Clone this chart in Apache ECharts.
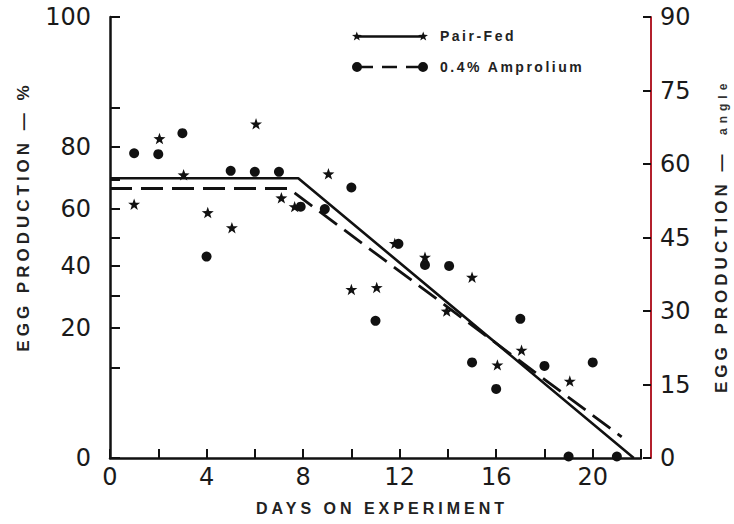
<!DOCTYPE html>
<html><head><meta charset="utf-8">
<script src="https://cdn.jsdelivr.net/npm/echarts@6/dist/echarts.min.js"></script>
<style>html,body{margin:0;padding:0;background:#fff}#c{width:734px;height:524px}</style>
</head><body><div id="c"></div>
<script>
// ---- data (y values in degrees on the angle scale) ----
const pairFedDays  = [1, 2.05, 3.05, 4.05, 5.05, 6.05, 7.1, 7.65, 9.05, 10, 11.05, 11.8, 13.05, 13.95, 15, 16.05, 17.05, 19.05];
const pairFedAngle = [51.8, 65.2, 57.8, 50.1, 47.0, 68.2, 53.1, 51.3, 58.0, 34.4, 34.8, 43.8, 41.0, 30.0, 36.9, 19.0, 22.0, 15.7];
const amproliumDays  = [1, 2, 3, 4, 5, 6, 7, 7.9, 8.9, 10, 11, 11.95, 13.05, 14.05, 15, 16, 17, 18, 19, 20, 21];
const amproliumAngle = [62.2, 62.0, 66.3, 41.1, 58.6, 58.4, 58.4, 51.3, 50.8, 55.2, 28.0, 43.7, 39.4, 39.2, 19.5, 14.1, 28.4, 18.8, 0.3, 19.5, 0.3];
const pairFedFitDays  = [0, 7.8, 21.7];
const pairFedFitAngle = [57.1, 57.1, 0];
const amproliumFitDays  = [0, 7.4, 21.2];
const amproliumFitAngle = [55.0, 55.0, 4.3];
const percentTicks  = [0, 10, 20, 30, 40, 50, 60, 70, 80, 90, 100];
const percentLabels = [0, 20, 40, 60, 80, 100];
const angleTicks    = [0, 15, 30, 45, 60, 75, 90];
const dayLabels     = [0, 4, 8, 12, 16, 20];

// arcsine transform used by the left (percent) axis
const toAngle = p => Math.asin(Math.sqrt(p / 100)) * 180 / Math.PI;
const toPercent = a => Math.round(100 * Math.pow(Math.sin(a * Math.PI / 180), 2));
const zip = (xs, ys) => xs.map((x, i) => [x, ys[i]]);

const FONT = '"Liberation Sans", Arial, sans-serif';
const NUMFONT = '"DejaVu Sans", sans-serif';
const INK = '#111';
const STAR = 'path://M0,-10L2.351,-3.236L9.511,-3.09L3.804,1.236L5.878,8.09L0,4L-5.878,8.09L-3.804,1.236L-9.511,-3.09L-2.351,-3.236Z';
const PF_ICON = 'path://M0.24,4.45L3.82,4.38L5,1L6.18,4.38L9.76,4.45L6.9,6.62L7.94,10.05L5,8L2.06,10.05L3.1,6.62Z' +
  'M5,4.8L71,4.8L71,7.2L5,7.2Z' +
  'M66.24,4.45L69.82,4.38L71,1L72.18,4.38L75.76,4.45L72.9,6.62L73.94,10.05L71,8L68.06,10.05L69.1,6.62Z';
const AM_ICON = 'path://M0,6A5,5 0 1 1 10,6A5,5 0 1 1 0,6Z' +
  'M5,4.7L21,4.7L21,7.3L5,7.3Z M30,4.7L45,4.7L45,7.3L30,7.3Z M54,4.7L71,4.7L71,7.3L54,7.3Z' +
  'M66,6A5,5 0 1 1 76,6A5,5 0 1 1 66,6Z';

const chart = echarts.init(document.getElementById('c'), null, {renderer: 'svg'});
const option = {
  animation: false,
  backgroundColor: '#fff',
  grid: {left: 110, right: 93, top: 17, bottom: 66},
  legend: {
    left: 347, top: 24, orient: 'vertical', itemWidth: 76, itemHeight: 10, itemGap: 17,
    symbolKeepAspect: true, selectedMode: false,
    data: [{name: 'Pair-Fed', icon: PF_ICON}, {name: '0.4% Amprolium', icon: AM_ICON}],
    itemStyle: {color: INK, borderWidth: 0, opacity: 1},
    textStyle: {fontSize: 14, fontWeight: 'bold', color: '#222', fontFamily: FONT, padding: [0, 0, 0, 7]}
  },
  xAxis: {
    type: 'value', min: 0, max: 22, interval: 2,
    name: 'DAYS ON EXPERIMENT', nameLocation: 'middle', nameGap: 42,
    nameTextStyle: {fontSize: 16, fontWeight: 'bold', color: '#222', fontFamily: FONT, padding: [0, 0, 0, 13]},
    axisLine: {lineStyle: {color: INK, width: 2.5}},
    axisTick: {inside: true, length: 9, lineStyle: {color: INK, width: 2}},
    axisLabel: {fontSize: 24, color: '#1a1a1a', fontFamily: NUMFONT, margin: 7,
      formatter: v => dayLabels.includes(v) ? String(v) : ''},
    splitLine: {show: false}
  },
  yAxis: [{
    type: 'value', min: 0, max: 90, position: 'left', offset: 10,
    name: 'EGG PRODUCTION — %', nameLocation: 'middle', nameRotate: 90, nameGap: 68,
    nameTextStyle: {fontSize: 17, fontWeight: 'bold', color: '#222', fontFamily: FONT, padding: [0, 0, 0, 42]},
    axisLine: {show: true, lineStyle: {color: INK, width: 2.5}},
    axisTick: {show: true, inside: true, length: 10, lineStyle: {color: INK, width: 2},
      customValues: percentTicks.map(toAngle)},
    axisLabel: {fontSize: 24, color: '#1a1a1a', fontFamily: NUMFONT, margin: 9,
      customValues: percentLabels.map(toAngle), formatter: v => String(toPercent(v))},
    splitLine: {show: false}
  }, {
    type: 'value', min: 0, max: 90, interval: 15, position: 'right', offset: 10,
    axisLine: {show: true, lineStyle: {color: '#b3202c', width: 2}},
    axisTick: {show: true, inside: true, length: 8, lineStyle: {color: INK, width: 2},
      customValues: angleTicks},
    axisLabel: {fontSize: 24, color: '#1a1a1a', fontFamily: NUMFONT, margin: 9, customValues: angleTicks},
    splitLine: {show: false}
  }],
  graphic: [
    {type: 'text', x: 721, y: 393, rotation: Math.PI / 2, silent: true,
      style: {text: 'EGG PRODUCTION —', fontSize: 17, fontWeight: 'bold', fontFamily: FONT, fill: '#222',
        align: 'left', verticalAlign: 'middle', textAlign: 'left', textVerticalAlign: 'middle'}},
    {type: 'text', x: 722.5, y: 135, rotation: Math.PI / 2, silent: true,
      style: {text: 'angle', fontSize: 12, fontWeight: 'bold', fontFamily: FONT, fill: '#333',
        align: 'left', verticalAlign: 'middle', textAlign: 'left', textVerticalAlign: 'middle'}}
  ],
  series: [
    {type: 'line', name: 'Pair-Fed', data: zip(pairFedFitDays, pairFedFitAngle), symbol: 'none', silent: true,
      lineStyle: {color: INK, width: 2.6, type: 'solid'}, itemStyle: {color: INK}, z: 2},
    {type: 'line', name: '0.4% Amprolium', data: zip(amproliumFitDays, amproliumFitAngle), symbol: 'none', silent: true,
      lineStyle: {color: INK, width: 2.8, type: [22, 9]}, itemStyle: {color: INK}, z: 2},
    {type: 'scatter', name: 'Pair-Fed', data: zip(pairFedDays, pairFedAngle), symbol: STAR, symbolSize: 12,
      symbolKeepAspect: true, itemStyle: {color: INK, opacity: 1}, z: 3},
    {type: 'scatter', name: '0.4% Amprolium', data: zip(amproliumDays, amproliumAngle), symbol: 'circle', symbolSize: 10,
      itemStyle: {color: INK, opacity: 1}, z: 3}
  ]
};
chart.setOption(option);

const spacing = {'DAYS ON EXPERIMENT': 4, 'EGG PRODUCTION — %': 4, 'EGG PRODUCTION —': 4, 'angle': 5, 'Pair-Fed': 2.5, '0.4% Amprolium': 2.5};
function applySpacing() {
  document.querySelectorAll('#c text').forEach(t => {
    const s = spacing[t.textContent.replace(/\u00a0/g, ' ').trim()];
    if (s != null) t.setAttribute('letter-spacing', s);
  });
}
applySpacing();
chart.on('finished', applySpacing);
setTimeout(applySpacing, 50);
</script>
</body></html>
